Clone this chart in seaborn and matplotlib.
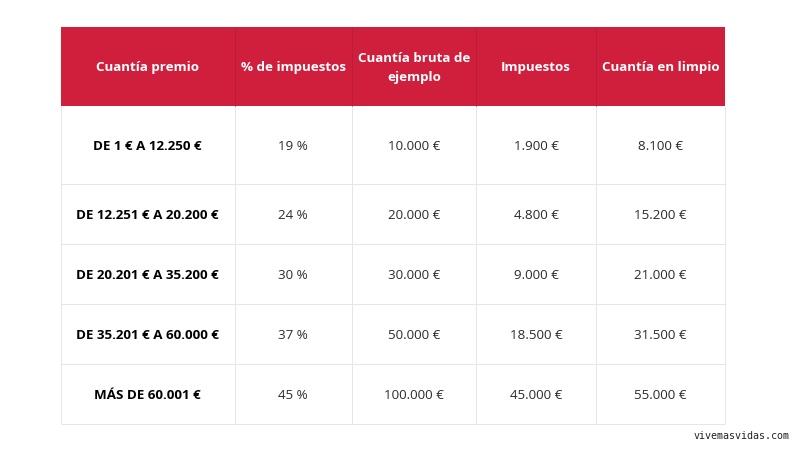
import matplotlib
matplotlib.use("Agg")
import matplotlib.pyplot as plt
import numpy as np
import pandas as pd
import seaborn as sns
from matplotlib.colors import ListedColormap
from matplotlib.transforms import ScaledTranslation

HEADERS = ["Cuantía premio", "% de impuestos", "Cuantía bruta de\nejemplo", "Impuestos", "Cuantía en limpio"]
TRAMOS = ["DE 1 € A 12.250 €", "DE 12.251 € A 20.200 €", "DE 20.201 € A 35.200 €", "DE 35.201 € A 60.000 €", "MÁS DE 60.001 €"]
PORCENTAJES = ["19 %", "24 %", "30 %", "37 %", "45 %"]
BRUTA = ["10.000 €", "20.000 €", "30.000 €", "50.000 €", "100.000 €"]
IMPUESTOS = ["1.900 €", "4.800 €", "9.000 €", "18.500 €", "45.000 €"]
LIMPIO = ["8.100 €", "15.200 €", "21.000 €", "31.500 €", "55.000 €"]

# cell edges in pixels of the 800x450 picture
X_EDGES = np.array([60.5, 234.5, 352.0, 476.0, 596.0, 725.0])
Y_EDGES = np.array([27.0, 106.0, 184.0, 244.0, 304.0, 364.0, 424.0])

RED = "#cf1f3c"
RED_LINE = "#bb1e39"
GREY_LINE = "#e6e6e6"

sns.set_theme(style="white")
plt.rcParams["font.family"] = ["Open Sans", "DejaVu Sans"]

labels = pd.DataFrame(
    [HEADERS] + [list(row) for row in zip(TRAMOS, PORCENTAJES, BRUTA, IMPUESTOS, LIMPIO)]
)
fill = np.zeros(labels.shape)
fill[0, :] = 1

fig = plt.figure(figsize=(8.0, 4.5), dpi=100, facecolor="white")
ax = fig.add_axes([
    X_EDGES[0] / 800,
    1 - Y_EDGES[-1] / 450,
    (X_EDGES[-1] - X_EDGES[0]) / 800,
    (Y_EDGES[-1] - Y_EDGES[0]) / 450,
])
sns.heatmap(
    fill,
    annot=labels.to_numpy(),
    fmt="",
    cmap=ListedColormap(["white", RED]),
    vmin=0,
    vmax=1,
    cbar=False,
    linewidths=0,
    xticklabels=False,
    yticklabels=False,
    annot_kws={"fontsize": 9.6},
    ax=ax,
)

# uneven column and row sizes come from the scales
x_idx = np.arange(len(X_EDGES), dtype=float)
y_idx = np.arange(len(Y_EDGES), dtype=float)
ax.set_xscale("function", functions=(
    lambda v: np.interp(v, x_idx, X_EDGES),
    lambda v: np.interp(v, X_EDGES, x_idx),
))
ax.set_yscale("function", functions=(
    lambda v: np.interp(v, y_idx, Y_EDGES),
    lambda v: np.interp(v, Y_EDGES, y_idx),
))
ax.set_xlim(0, 5)
ax.set_ylim(6, 0)
ax.tick_params(which="both", length=0, labelbottom=False, labelleft=False)
ax.minorticks_off()

n_cols = labels.shape[1]
nudge = ScaledTranslation(0, -1.0 / 100, fig.dpi_scale_trans)
for i, text in enumerate(ax.texts):
    row, col = divmod(i, n_cols)
    text.set_transform(text.get_transform() + nudge)
    text.set_linespacing(1.6)
    if row == 0:
        text.set_color("white")
        text.set_fontweight("bold")
    elif col == 0:
        text.set_color("black")
        text.set_fontweight("bold")
    else:
        text.set_color("#2b2b2b")

ax.vlines(x_idx, 1, 6, color=GREY_LINE, lw=0.72, zorder=3, clip_on=False)
ax.hlines(y_idx[2:], 0, 5, color=GREY_LINE, lw=0.72, zorder=3, clip_on=False)
ax.vlines(x_idx[1:-1], 0, 1, color=RED_LINE, lw=0.72, zorder=3)
for spine in ax.spines.values():
    spine.set_visible(False)

fig.text(
    742 / 800, 1 - 436 / 450, "vivemasvidas.com",
    family="DejaVu Sans Mono", fontsize=7.2, color="#222222",
    ha="center", va="center",
)

fig.savefig("out.png", dpi=100, facecolor="white")
